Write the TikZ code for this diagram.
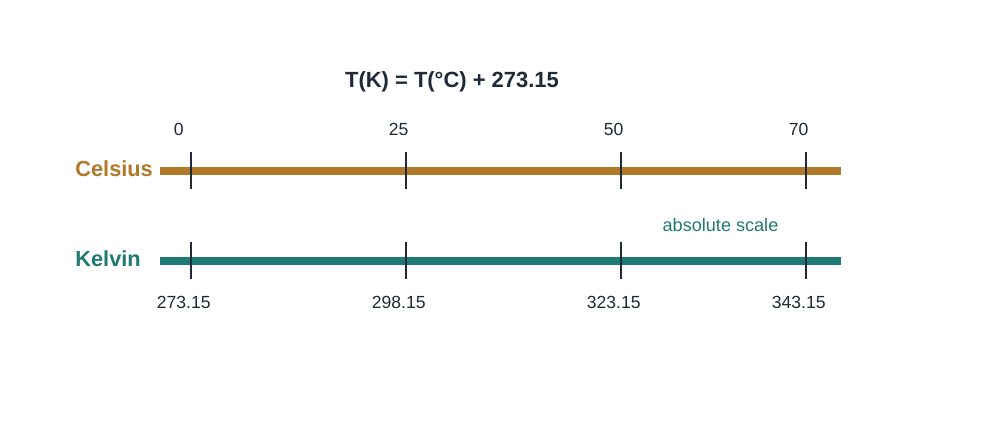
\documentclass[tikz,border=0pt]{standalone}
\usepackage{fontspec}
\setmainfont{Liberation Sans}
\usetikzlibrary{positioning}
\definecolor{celsiusc}{RGB}{176,122,42}
\definecolor{kelvinc}{RGB}{30,122,114}
\definecolor{inkc}{RGB}{31,41,55}

\begin{document}
\begin{tikzpicture}[
    x=0.02cm, y=-0.02cm,
    titlest/.style={font=\fontsize{12.5}{15}\selectfont\bfseries, text=inkc,
                    inner sep=0pt, anchor=base},
    scalest/.style={font=\fontsize{12.4}{15}\selectfont\bfseries,
                    inner sep=0pt, anchor=base west},
    degcst/.style={font=\fontsize{10}{12}\selectfont, text=inkc,
                   inner sep=0pt, anchor=base west},
    degkst/.style={font=\fontsize{10}{12}\selectfont, text=inkc,
                   inner sep=0pt, anchor=base},
    notest/.style={font=\fontsize{10.3}{12}\selectfont, text=kelvinc,
                   inner sep=0pt, anchor=base},
    barst/.style={line width=4.3pt},
    tickst/.style={draw=inkc, line width=1.1pt},
  ]
  \useasboundingbox (0,0) rectangle (1000,430);
  %% Title
  \node[titlest] (formula) at (452,87.3) {T(K) = T(°C) + 273.15};
  %% Celsius scale
  \node[scalest, text=celsiusc] (celsius) at (75,176.3) {Celsius};
  \coordinate (cstart) at (160,170.8);
  \coordinate (cend) at (841,170.8);
  \draw[barst, celsiusc] (cstart) -- (cend);
  \draw[tickst] (191,152) -- (191,188.5);
  \draw[tickst] (406,152) -- (406,188.5);
  \draw[tickst] (621,152) -- (621,188.5);
  \draw[tickst] (806,152) -- (806,188.5);
  \node[degcst] (c0) at (173.5,135) {0};
  \node[degcst] (c25) at (388.5,135) {25};
  \node[degcst] (c50) at (603.5,135) {50};
  \node[degcst] (c70) at (788.5,135) {70};
  %% Kelvin scale
  \node[scalest, text=kelvinc] (kelvin) at (75,266.7) {Kelvin};
  \coordinate (kstart) at (160,261.2);
  \coordinate (kend) at (841,261.2);
  \draw[barst, kelvinc] (kstart) -- (kend);
  \draw[tickst] (191,242) -- (191,278.5);
  \draw[tickst] (406,242) -- (406,278.5);
  \draw[tickst] (621,242) -- (621,278.5);
  \draw[tickst] (806,242) -- (806,278.5);
  \node[degkst] (k0) at (183.7,308.3) {273.15};
  \node[degkst] (k25) at (398.7,308.3) {298.15};
  \node[degkst] (k50) at (613.7,308.3) {323.15};
  \node[degkst] (k70) at (798.7,308.3) {343.15};
  %% Note
  \node[notest] (absnote) at (720.5,231.7) {absolute scale};
\end{tikzpicture}
\end{document}
